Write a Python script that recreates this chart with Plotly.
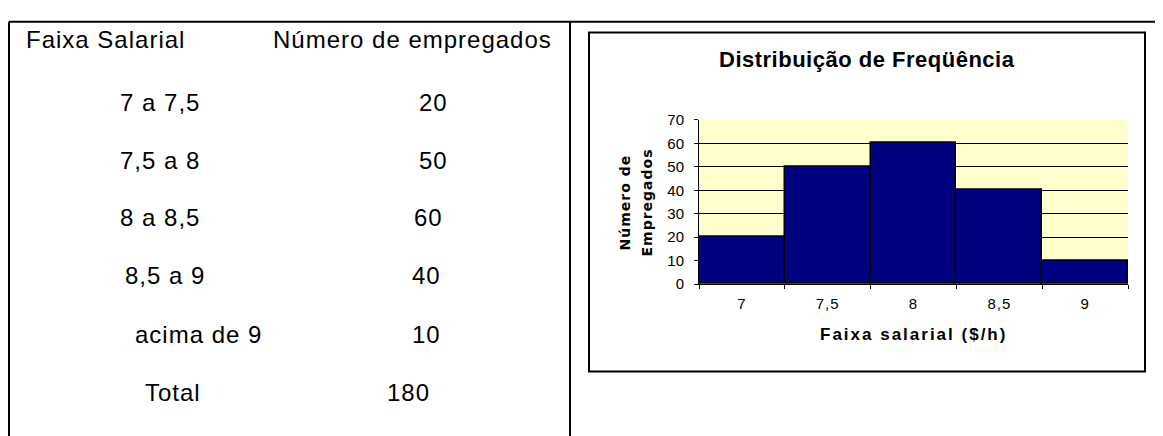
import plotly.graph_objects as go

# dados da tabela
faixas = ["7 a 7,5", "7,5 a 8", "8 a 8,5", "8,5 a 9", "acima de 9"]
empregados = [20, 50, 60, 40, 10]
total = 180
cabecalho = ["Faixa Salarial", "Número de empregados"]

# dados do histograma
classes = ["7", "7,5", "8", "8,5", "9"]
frequencias = [20, 50, 60, 40, 10]

W, H = 1163, 436
OFF = 8  # margem padrão do <body> na página gerada
FONT = "Liberation Sans, Arial, sans-serif"


def px(x):
    return (x - OFF) / W


def py(y):
    return 1 - (y - OFF) / H


def spaced(txt, ls):
    return f'<span style="letter-spacing:{ls}px">{txt}</span>'


fig = go.Figure()

fig.add_trace(go.Bar(
    x=classes,
    y=frequencias,
    marker=dict(color="#000080", line=dict(color="black", width=1.5)),
    showlegend=False,
))

annotations = []

# cabeçalho da tabela
annotations.append(dict(x=px(105), y=py(31), text=cabecalho[0]))
annotations.append(dict(x=px(412), y=py(31), text=cabecalho[1]))

# linhas da tabela
row_y = [97, 157, 217, 277, 338]
faixa_x = [118, 118, 118, 123, 133]
num_x = [433, 433, 428, 426, 426]
for i, (f, n) in enumerate(zip(faixas, empregados)):
    annotations.append(dict(x=px(faixa_x[i]), y=py(row_y[i]), text=f, xanchor="left"))
    annotations.append(dict(x=px(num_x[i]), y=py(row_y[i]), text=str(n)))
annotations.append(dict(x=px(143), y=py(399), text="Total", xanchor="left"))
annotations.append(dict(x=px(408), y=py(399), text=str(total)))

for a in annotations:
    a["text"] = spaced(a["text"], 1)
    a.update(xref="paper", yref="paper", showarrow=False, yanchor="middle",
             font=dict(family=FONT, size=24, color="black"))
    a.setdefault("xanchor", "center")

# título e rótulos do gráfico
annotations.append(dict(
    x=px(867), y=py(52), xref="paper", yref="paper", showarrow=False,
    xanchor="center", yanchor="middle",
    text=spaced("<b>Distribuição de Freqüência</b>", 0.5),
    font=dict(family=FONT, size=22, color="black"),
))
annotations.append(dict(
    x=px(913), y=py(338), xref="paper", yref="paper", showarrow=False,
    xanchor="center", yanchor="middle",
    text=spaced("<b>Faixa salarial ($/h)</b>", 2),
    font=dict(family=FONT, size=17, color="black"),
))
for lx, ltxt in [(625, "Número de"), (647, "Empregados")]:
    annotations.append(dict(
        x=px(lx), y=py(201), xref="paper", yref="paper", showarrow=False,
        xanchor="center", yanchor="middle",
        text=spaced(f"<b>{ltxt}</b>", 1),
        textangle=-90,
        font=dict(family="DejaVu Sans, sans-serif", size=14, color="black"),
    ))

shapes = [
    # bordas da tabela
    dict(type="line", x0=px(9), x1=px(1158), y0=py(13), y1=py(13)),
    dict(type="line", x0=px(9), x1=px(9), y0=py(13), y1=py(450)),
    dict(type="line", x0=px(570), x1=px(570), y0=py(13), y1=py(450)),
    # moldura do gráfico
    dict(type="rect", x0=px(589), x1=px(1145), y0=py(24), y1=py(377)),
]
for s in shapes:
    s.update(xref="paper", yref="paper", line=dict(color="black", width=2))

fig.update_layout(
    width=W, height=H,
    margin=dict(l=0, r=0, t=0, b=0),
    paper_bgcolor="white",
    plot_bgcolor="#FFFFCC",
    bargap=0,
    annotations=annotations,
    shapes=shapes,
    xaxis=dict(
        domain=[px(699), px(1128)],
        type="category",
        tickvals=classes,
        ticktext=[spaced(c, 1) for c in classes],
        ticks="outside", tickson="boundaries", ticklen=4, tickcolor="black",
        ticklabelstandoff=6,
        showline=True, linecolor="black", linewidth=1,
        showgrid=False,
        tickfont=dict(family=FONT, size=15, color="black"),
    ),
    yaxis=dict(
        domain=[py(286), py(115)],
        range=[0, 70], dtick=10,
        ticks="outside", ticklen=4, tickcolor="black",
        ticklabelstandoff=7,
        showline=True, linecolor="black", linewidth=1,
        showgrid=True, gridcolor="black", gridwidth=1,
        zeroline=False,
        tickfont=dict(family=FONT, size=15, color="black"),
    ),
)

fig.write_html("out.html")
